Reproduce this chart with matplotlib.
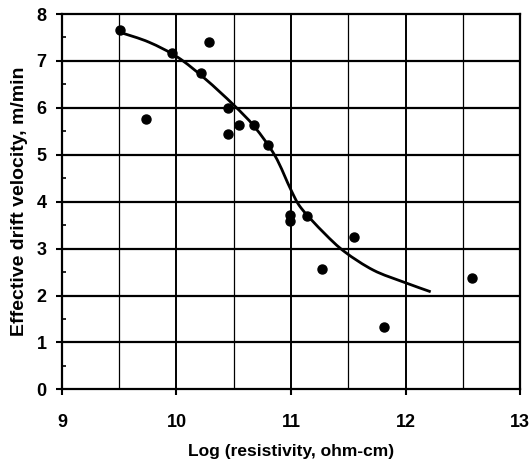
import matplotlib
matplotlib.use("Agg")
import matplotlib.pyplot as plt
from matplotlib.path import Path
from matplotlib.patches import PathPatch
import numpy as np

plt.rcParams['font.family'] = ['Liberation Sans', 'DejaVu Sans']

# Measured points
pts_x = [9.51, 9.96, 10.28, 10.21, 9.73, 10.45, 10.45, 10.55, 10.68, 10.80,
         10.99, 10.99, 11.14, 11.55, 11.27, 11.81, 12.58]
pts_y = [7.66, 7.18, 7.40, 6.74, 5.76, 5.99, 5.44, 5.64, 5.64, 5.21,
         3.72, 3.58, 3.70, 3.24, 2.56, 1.33, 2.37]

# Fitted curve
curve_x = [9.52, 9.76, 10.01, 10.25, 10.50, 10.68, 10.86, 11.00, 11.09,
           11.29, 11.47, 11.72, 11.98, 12.22]
curve_y = [7.60, 7.40, 7.08, 6.62, 6.06, 5.60, 4.98, 4.25, 3.86,
           3.33, 2.93, 2.54, 2.29, 2.08]

x_ticks = [9, 10, 11, 12, 13]
y_ticks = [0, 1, 2, 3, 4, 5, 6, 7, 8]

fig = plt.figure(figsize=(5.32, 4.68), dpi=100)
ax = fig.add_axes([0.1165, 0.168, 0.861, 0.802])

ax.set_xlim(9, 13)
ax.set_ylim(0, 8)

# grid
for yv in y_ticks[1:-1]:
    ax.axhline(yv, color='black', lw=1.6, zorder=1)
for xv in np.arange(9.5, 13, 0.5):
    ax.axvline(xv, color='black', lw=1.4 if xv % 1 == 0 else 0.9, zorder=1)

# smooth curve through the read points (Catmull-Rom rendered as Bezier)
P = np.column_stack([curve_x, curve_y])
verts = [tuple(P[0])]
codes = [Path.MOVETO]
n = len(P)
for i in range(n - 1):
    p0 = P[i - 1] if i > 0 else P[i]
    p1 = P[i]
    p2 = P[i + 1]
    p3 = P[i + 2] if i + 2 < n else P[i + 1]
    c1 = p1 + (p2 - p0) / 6.0
    c2 = p2 - (p3 - p1) / 6.0
    verts += [tuple(c1), tuple(c2), tuple(p2)]
    codes += [Path.CURVE4] * 3
ax.add_patch(PathPatch(Path(verts, codes), fill=False, edgecolor='black',
                       lw=2.0, zorder=3, capstyle='butt'))

ax.plot(pts_x, pts_y, 'o', color='black', ms=6.5, zorder=4)

ax.set_xticks(x_ticks)
ax.set_yticks(y_ticks)
ax.set_yticks(np.arange(0.5, 8, 1.0), minor=True)
ax.tick_params(axis='both', which='major', direction='out', length=4, width=1.5,
               labelsize=13, pad=7)
ax.tick_params(axis='y', which='minor', direction='in', length=3, width=1.2)
ax.tick_params(axis='x', which='major', pad=14)
for lab in ax.get_xticklabels() + ax.get_yticklabels():
    lab.set_fontweight('bold')

for s in ax.spines.values():
    s.set_linewidth(1.6)

ax.set_xlabel('Log (resistivity, ohm-cm)', fontsize=12.5, fontweight='bold',
              labelpad=9)
ax.set_ylabel('Effective drift velocity, m/min', fontsize=14, fontweight='bold',
              labelpad=6)

fig.savefig('out.png', dpi=100)
